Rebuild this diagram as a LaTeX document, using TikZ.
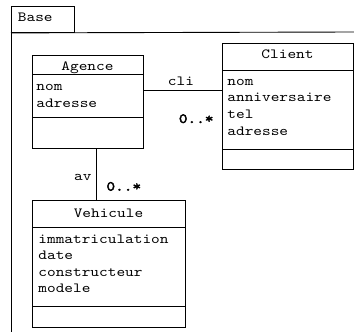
\documentclass[tikz,border=0pt]{standalone}
\usepackage{fontspec}
\newfontfamily\cour[FakeStretch=1.18]{lmmono10-regular.otf}
\newfontfamily\courb[FakeStretch=1.18,FakeBold=3]{lmmono10-regular.otf}
\begin{document}
\begin{tikzpicture}[x=1pt,y=-1pt,line width=0.9pt,
  cls/.style={draw,rectangle,inner sep=0pt,anchor=north west},
  txt/.style={inner sep=0pt,anchor=base west},
  ttl/.style={inner sep=0pt,anchor=base},
  every node/.append style={font=\cour\fontsize{14}{16.7}\selectfont}]
\useasboundingbox (0,0) rectangle (354,332);
% package
\node[cls,minimum width=63pt,minimum height=26pt] (tab) at (11,6) {};
\node[txt] (basetxt) at (17.5,21.5) {Base};
\draw (tab.south west) -- (11,332);
\draw (tab.south west) -- (354,32);
% classes
\node[cls,minimum width=111pt,minimum height=93pt] (agence) at (32,55) {};
\node[cls,minimum width=131pt,minimum height=126pt] (client) at (222,43) {};
\node[cls,minimum width=153pt,minimum height=127pt] (vehicule) at (32,200) {};
% separators
\draw ([yshift=-19pt]agence.north west) -- ([yshift=-19pt]agence.north east);
\draw ([yshift=-62pt]agence.north west) -- ([yshift=-62pt]agence.north east);
\draw ([yshift=-27pt]client.north west) -- ([yshift=-27pt]client.north east);
\draw ([yshift=-106pt]client.north west) -- ([yshift=-106pt]client.north east);
\draw ([yshift=-27pt]vehicule.north west) -- ([yshift=-27pt]vehicule.north east);
\draw ([yshift=-106pt]vehicule.north west) -- ([yshift=-106pt]vehicule.north east);
% titles
\node[ttl] (agt) at (87.5,70) {Agence};
\node[ttl] (clt) at (287.5,58.5) {Client};
\node[ttl] (vet) at (108.5,217) {Vehicule};
% attributes
\node[txt] (a1) at (36,90) {nom};
\node[txt] (a2) at (36,107) {adresse};
\node[txt] (c1) at (227,85) {nom};
\node[txt] (c2) at (227,101.8) {anniversaire};
\node[txt] (c3) at (227,118.6) {tel};
\node[txt] (c4) at (227,135.4) {adresse};
\node[txt] (v1) at (38,243) {immatriculation};
\node[txt] (v2) at (38,259.5) {date};
\node[txt] (v3) at (38,276) {constructeur};
\node[txt] (v4) at (38,292.5) {modele};
% connectors
\path ([yshift=-35pt]agence.north east) coordinate (p1);
\draw (p1) -- (p1 -| client.west);
\path ([xshift=8.5pt]agence.south) coordinate (p2);
\draw (p2) -- (p2 |- vehicule.north);
% labels
\node[ttl] (cli) at (181,85.7) {cli};
\node[inner sep=0pt,anchor=base east,font=\courb\fontsize{14}{16.7}\selectfont] (m1) at (214,123) {0..*};
\node[inner sep=0pt,anchor=base east] (av) at (92,180.7) {av};
\node[inner sep=0pt,anchor=base west,font=\courb\fontsize{14}{16.7}\selectfont] (m2) at (106,190.7) {0..*};
\end{tikzpicture}
\end{document}
